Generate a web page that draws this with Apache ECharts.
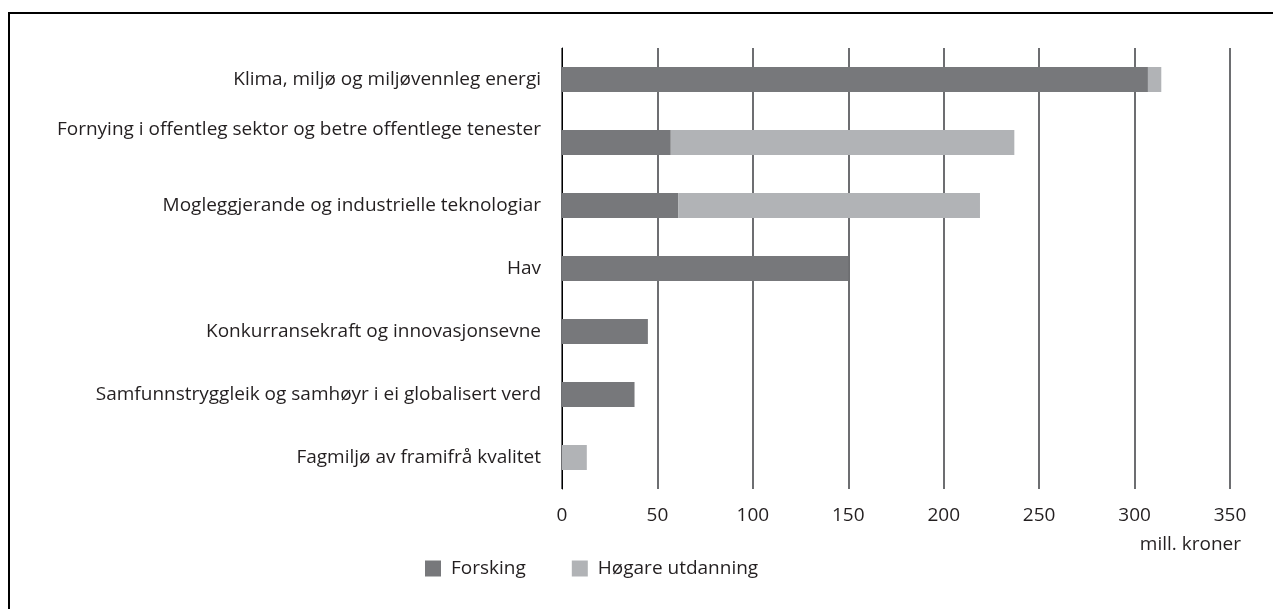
<!DOCTYPE html>
<html>
<head>
<meta charset="utf-8">
<script src="https://cdn.jsdelivr.net/npm/echarts@6/dist/echarts.min.js"></script>
<style>
	html, body { margin: 0; padding: 0; background: #fff; }
	#chart { width: 1273px; height: 609px; }
</style>
</head>
<body>
<div id="chart"></div>
<script>
// kategoriar, ovanfrå og ned
var categories = [
	'Klima, miljø og miljøvennleg energi',
	'Fornying i offentleg sektor og betre offentlege tenester',
	'Mogleggjerande og industrielle teknologiar',
	'Hav',
	'Konkurransekraft og innovasjonsevne',
	'Samfunnstryggleik og samhøyr i ei globalisert verd',
	'Fagmiljø av framifrå kvalitet'
];

// mill. kroner
var forsking = [307, 57, 61, 150, 45, 38, 0];
var hogareUtdanning = [7, 180, 158, 0, 0, 0, 13];

var xTicks = [0, 50, 100, 150, 200, 250, 300, 350];

var fontName = '"Open Sans", "Noto Sans", sans-serif';
var fontSize = 19;
var textColor = '#231f20';

var myChart = echarts.init(document.getElementById('chart'));

var option = {
	animation: false,
	backgroundColor: '#fff',
	textStyle: { fontFamily: fontName, color: textColor },
	grid: { left: 562, right: 1273 - 1230, top: 48, bottom: 609 - 489, containLabel: false },
	legend: {
		left: 420,
		top: 554,
		itemWidth: 16,
		itemHeight: 16,
		itemGap: 46,
		icon: 'rect',
		textStyle: { fontFamily: fontName, fontSize: fontSize, color: textColor, padding: [0, 0, 0, 5] },
		data: ['Forsking', 'Høgare utdanning']
	},
	xAxis: {
		type: 'value',
		min: xTicks[0],
		max: xTicks[xTicks.length - 1],
		interval: 50,
		axisLine: { show: false },
		axisTick: { show: false },
		axisLabel: { fontFamily: fontName, fontSize: fontSize, color: textColor, margin: 17 },
		splitLine: { show: true, lineStyle: { color: '#6d6e71', width: 2 } }
	},
	yAxis: {
		type: 'category',
		inverse: true,
		data: categories,
		axisLine: { show: true, lineStyle: { color: '#000', width: 1 } },
		axisTick: { show: false },
		axisLabel: {
			fontFamily: fontName,
			fontSize: fontSize,
			color: textColor,
			margin: 21,
			formatter: function (v, i) {
				// den lange etiketten står litt høgare enn stolpen
				return i === 1 ? '{up|' + v + '}' : v;
			},
			rich: {
				up: { fontFamily: fontName, fontSize: fontSize, color: textColor, padding: [0, 0, 26, 0] }
			}
		}
	},
	graphic: [
		{
			type: 'polyline',
			shape: { points: [[9, 609], [9, 13], [1273, 13]] },
			style: { stroke: '#000', lineWidth: 2, fill: null }
		},
		{
			type: 'text',
			right: 1273 - 1241,
			top: 535,
			style: { text: 'mill. kroner', font: fontSize + 'px ' + fontName, fill: textColor }
		}
	],
	series: [
		{
			name: 'Forsking',
			type: 'bar',
			stack: 'total',
			barWidth: 25,
			itemStyle: { color: '#77787b' },
			data: forsking
		},
		{
			name: 'Høgare utdanning',
			type: 'bar',
			stack: 'total',
			barWidth: 25,
			itemStyle: { color: '#b1b3b6' },
			data: hogareUtdanning
		}
	]
};

myChart.setOption(option);
window.onresize = myChart.resize;
</script>
</body>
</html>
